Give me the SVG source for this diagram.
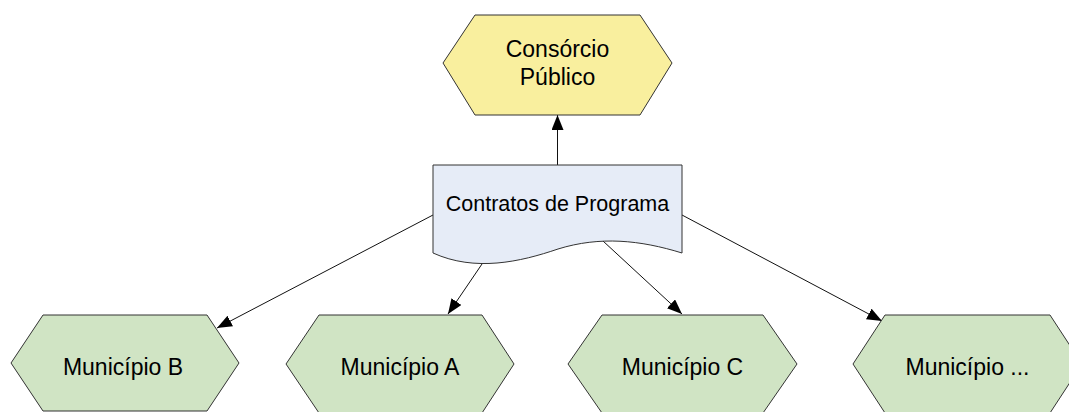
<svg xmlns="http://www.w3.org/2000/svg" width="1069" height="412" viewBox="0 0 1069 412">
<style>
.hex{stroke:#333;stroke-width:1}
.yel{fill:#F9EF9E}
.grn{fill:#D0E4C4}
.doc{fill:#E6ECF7;stroke:#333;stroke-width:1}
.lbl{font-family:"Liberation Sans",Arial,sans-serif;font-size:23px;fill:#000;text-anchor:middle}
.sm{font-size:21.5px}
.edge{stroke:#111;stroke-width:1;fill:none;marker-end:url(#ah)}
</style>
<defs>
<marker id="ah" markerUnits="userSpaceOnUse" markerWidth="16" markerHeight="12" refX="15" refY="6" orient="auto">
<path d="M0,0 L15,6 L0,12 Z" fill="#000"/>
</marker>
</defs>
<rect width="1069" height="412" fill="#fff"/>
<g id="edges">
<line class="edge" x1="557.5" y1="165" x2="557.5" y2="115"/>
<line class="edge" x1="433" y1="215" x2="217" y2="328"/>
<line class="edge" x1="482" y1="264" x2="448" y2="314"/>
<line class="edge" x1="603" y1="241" x2="682" y2="314"/>
<line class="edge" x1="682" y1="215" x2="882" y2="321"/>
</g>
<g id="consorcio">
<polygon class="hex yel" points="475,15 640,15 672,63 640,115 475,115 443,63"/>
<text class="lbl" x="557.5" y="57">Consórcio</text>
<text class="lbl" x="557.5" y="85">Público</text>
</g>
<g id="contratos">
<path class="doc" d="M433,165 H682 V253 C640,240 600,236 558,249 C520,262 475,272 433,253 Z"/>
<text class="lbl sm" x="557.5" y="211">Contratos de Programa</text>
</g>
<g id="municipioB">
<polygon class="hex grn" points="43,315 207,315 239,363 207,411 43,411 11,363"/>
<text class="lbl" x="123" y="375">Município B</text>
</g>
<g id="municipioA">
<polygon class="hex grn" points="319,315 482,315 514,364 482,413 319,413 286,364"/>
<text class="lbl" x="400" y="375">Município A</text>
</g>
<g id="municipioC">
<polygon class="hex grn" points="602,315 763,315 797,364 763,413 602,413 568,364"/>
<text class="lbl" x="682.5" y="375">Município C</text>
</g>
<g id="municipioEtc">
<polygon class="hex grn" points="885,315 1050,315 1082,364 1050,413 885,413 853,364"/>
<text class="lbl" x="967.5" y="375">Município ...</text>
</g>
</svg>
